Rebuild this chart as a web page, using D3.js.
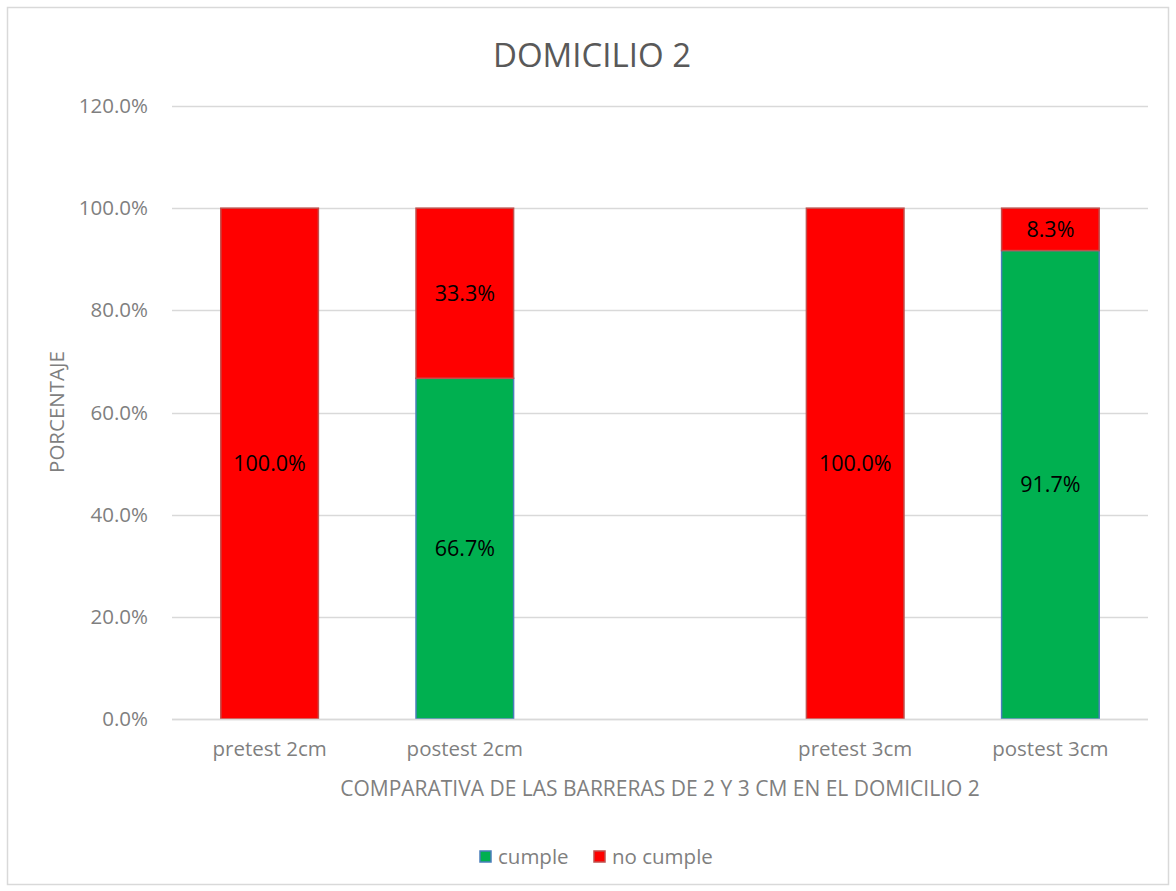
<!DOCTYPE html>
<html><head><meta charset="utf-8">
<script src="https://cdn.jsdelivr.net/npm/d3@7"></script>
<style>body{margin:0;background:#fff}svg{display:block}text{font-family:"Open Sans","Liberation Sans",sans-serif}</style>
</head><body>
<svg id="c" width="1176" height="891"></svg>
<script>
const categories = ["pretest 2cm","postest 2cm","","pretest 3cm","postest 3cm"];
const cumple = [0, 0.667, null, 0, 0.917];
const noCumple = [1.0, 0.333, null, 1.0, 0.083];
const yTicks = [0, 0.2, 0.4, 0.6, 0.8, 1.0, 1.2];
const seriesNames = ["cumple","no cumple"];
const colors = {cumple:"#00b050", "no cumple":"#ff0000"};
const strokes = {cumple:"#4a7ebb", "no cumple":"#c0504d"};

const FS = 20.5;
const svg = d3.select("#c");
svg.append("rect").attr("x",7.5).attr("y",7.5).attr("width",1161).attr("height",877)
  .attr("fill","#fff").attr("stroke","#d9d9d9").attr("stroke-width",1.5);

const L=172, R=1148, T=106, B=719;
const x = d3.scaleBand().domain(d3.range(categories.length)).range([L,R]).paddingInner(0.5).paddingOuter(0.25);
const y = d3.scaleLinear().domain([0,1.2]).range([B,T]);

// gridlines
svg.append("g").selectAll("line").data(yTicks).join("line")
  .attr("x1",L).attr("x2",R).attr("y1",d=>Math.round(y(d))+0.5).attr("y2",d=>Math.round(y(d))+0.5)
  .attr("stroke","#d9d9d9").attr("stroke-width",1.5);

// y axis labels
const yAxis = d3.axisLeft(y).tickValues(yTicks).tickFormat(d=>(d*100).toFixed(1)+"%").tickSize(0).tickPadding(24);
const ya = svg.append("g").attr("transform",`translate(${L},0)`).call(yAxis);
ya.select(".domain").remove();
ya.selectAll("text").attr("font-size",FS).attr("fill","#7f7f7f").attr("font-family","Open Sans");

// stacked data
const rows = categories.map((c,i)=>({i, cumple:cumple[i]||0, "no cumple":noCumple[i]||0, empty: cumple[i]===null}));
const stack = d3.stack().keys(seriesNames)(rows);
stack.forEach(s=>{
  const key=s.key;
  const g = svg.append("g");
  g.selectAll("rect").data(s.filter(d=>!d.data.empty && (d[1]-d[0])>0)).join("rect")
    .attr("x",d=>x(d.data.i)).attr("width",x.bandwidth())
    .attr("y",d=>y(d[1])).attr("height",d=>y(d[0])-y(d[1]))
    .attr("fill",colors[key]).attr("stroke",strokes[key]).attr("stroke-width",1.5);
  g.selectAll("text").data(s.filter(d=>!d.data.empty && (d[1]-d[0])>0)).join("text")
    .attr("x",d=>x(d.data.i)+x.bandwidth()/2).attr("y",d=>(y(d[0])+y(d[1]))/2)
    .attr("dy","0.35em").attr("text-anchor","middle").attr("font-size",21.5).attr("fill","#000")
    .text(d=>((d[1]-d[0])*100).toFixed(1)+"%");
});

// baseline
svg.append("line").attr("x1",L).attr("x2",R).attr("y1",B+0.5).attr("y2",B+0.5).attr("stroke","#d9d9d9").attr("stroke-width",1.5);

// x axis labels
const xAxis = d3.axisBottom(x).tickFormat(i=>categories[i]).tickSize(0).tickPadding(22);
const xa = svg.append("g").attr("transform",`translate(0,${B})`).call(xAxis);
xa.select(".domain").remove();
xa.selectAll("text").attr("font-size",FS).attr("fill","#7f7f7f").attr("font-family","Open Sans");

// title
svg.append("text").attr("x",592).attr("y",67).attr("text-anchor","middle").attr("font-size",33).attr("fill","#595959").text("DOMICILIO 2");
// axis titles
svg.append("text").attr("x",660).attr("y",796).attr("text-anchor","middle").attr("font-size",21).attr("fill","#7f7f7f")
  .text("COMPARATIVA DE LAS BARRERAS DE 2 Y 3 CM EN EL DOMICILIO 2");
svg.append("text").attr("transform","translate(64,412) rotate(-90)").attr("text-anchor","middle").attr("font-size",FS).attr("fill","#7f7f7f").text("PORCENTAJE");

// legend
const leg = svg.append("g");
const legX=[480,594];
seriesNames.forEach((n,k)=>{
  leg.append("rect").attr("x",legX[k]).attr("y",851).attr("width",11).attr("height",11)
    .attr("fill",colors[n]).attr("stroke",strokes[n]).attr("stroke-width",1.5);
  leg.append("text").attr("x",legX[k]+18).attr("y",864).attr("font-size",FS).attr("fill","#7f7f7f").text(n);
});
</script>
</body></html>
